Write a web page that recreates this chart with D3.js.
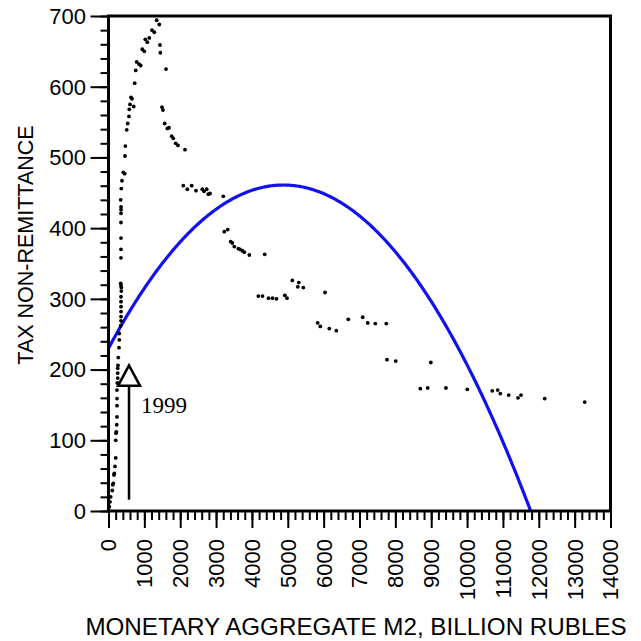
<!DOCTYPE html>
<html><head><meta charset="utf-8">
<script src="https://cdn.jsdelivr.net/npm/d3@7"></script>
<style>body{margin:0;background:#fff}</style>
</head><body><svg id="c" width="641" height="641"></svg>
<script>
// Monetary aggregate M2 (billion rubles)
const m2 = [0,22,42,61,106,117,134,153,162,181,201,201,209,218,229,237,237,237,237,245,257,257,257,265,273,293,301,301,340,349,349,349,349,349,349,357,357,349,340,349,349,349,349,349,349,349,340,357,376,413,452,460,469,508,535,572,580,600,703,627,655,731,759,786,851,898,943,998,1026,1082,1138,1213,1277,1344,1417,
1436,1445,1604,1492,1520,1567,1640,1687,1763,1807,1874,1938,2133,2086,2198,2320,2440,2616,2663,2739,2783,2831,3202,3229,3324,3408,3453,3508,3620,3667,3731,3787,3927,4356,4178,4295,4462,4574,4685,4917,4978,5126,5307,5279,5433,6038,5834,5907,6158,6353,6688,7089,7229,7441,7747,7767,8010,8989,8696,8902,9412,10006,10703,10854,10927,11161,11420,11504,12165,13280];
// Tax non-remittance
const arrears = [1,6,13,20,29,37,39,51,53,63,75,100,110,112,122,133,149,159,171,181,188,195,202,206,217,231,242,251,262,269,275,282,289,296,303,311,316,319,322,358,370,386,408,421,426,430,440,456,467,479,477,502,516,539,548,558,568,575,572,585,583,605,623,635,632,630,653,650,667,663,669,680,677,694,688,
659,648,625,571,567,548,541,542,530,527,520,517,511,460,455,460,453,455,452,455,448,449,445,395,398,381,379,374,371,370,368,366,362,363,304,304,301,301,300,305,301,326,323,317,316,309,266,261,258,255,271,274,266,265,265,214,212,210,173,174,174,172,170,171,166,164,160,164,159,154];
// Quadratic trend: c0 + c1*x + c2*x^2
const trendCoef = [230, 0.09467, -9.70e-6];
const xTickValues = d3.range(0, 14001, 1000);
const xMinorValues = d3.range(0, 14001, 200);
const yTickValues = d3.range(0, 701, 100);
const yMinorValues = d3.range(0, 701, 20);
const xTitle = "MONETARY AGGREGATE M2, BILLION RUBLES";
const yTitle = "TAX NON-REMITTANCE";
const noteLabel = "1999";
const noteX = 572, noteBase = 16, noteHead = 177, noteTip = 206, noteTextY = 139;

const svg = d3.select("#c");
const x = d3.scaleLinear().domain([0, 14000]).range([108.5, 610.5]);
const y = d3.scaleLinear().domain([0, 700]).range([511, 16]);
const font = "'Liberation Sans', Arial, sans-serif";

// trend curve
const [c0, c1, c2] = trendCoef;
const root = (-c1 - Math.sqrt(c1*c1 - 4*c2*c0)) / (2*c2);
const xs = d3.range(0, 301).map(i => root * i / 300);
svg.append("path")
  .datum(xs)
  .attr("fill", "none").attr("stroke", "#1010f0").attr("stroke-width", 3.2)
  .attr("d", d3.line().x(d => x(d)).y(d => y(Math.max(0, c0 + c1*d + c2*d*d))));

// points
svg.append("g").selectAll("circle").data(m2).join("circle")
  .attr("cx", (d) => x(d)).attr("cy", (d, i) => y(arrears[i]))
  .attr("r", 1.9).attr("fill", "#000");

// axes
const gx = svg.append("g").attr("transform", `translate(0,${y(0)})`);
gx.call(d3.axisBottom(x).tickValues(xMinorValues).tickSize(9).tickFormat(""));
gx.append("g").call(d3.axisBottom(x).tickValues(xTickValues).tickSize(17).tickFormat(""));
gx.selectAll(".domain").remove();
gx.selectAll("line").attr("stroke", "#000").attr("stroke-width", 2);
const gy = svg.append("g").attr("transform", `translate(${x(0)},0)`);
gy.call(d3.axisLeft(y).tickValues(yMinorValues).tickSize(8).tickFormat(""));
gy.append("g").call(d3.axisLeft(y).tickValues(yTickValues).tickSize(18).tickFormat(""));
gy.selectAll(".domain").remove();
gy.selectAll("line").attr("stroke", "#000").attr("stroke-width", 2);

// frame
svg.append("rect").attr("x", x(0)).attr("y", y(700)).attr("width", x(14000)-x(0)).attr("height", y(0)-y(700))
  .attr("fill", "none").attr("stroke", "#000").attr("stroke-width", 3);

// tick labels
svg.append("g").selectAll("text").data(yTickValues).join("text")
  .attr("x", 86).attr("y", d => y(d)).attr("dy", "0.36em")
  .attr("text-anchor", "end").attr("font-family", font).attr("font-size", 22)
  .text(d => d);
svg.append("g").selectAll("text").data(xTickValues).join("text")
  .attr("transform", d => `translate(${x(d)},539) rotate(-90)`)
  .attr("dy", "0.36em").attr("text-anchor", "end")
  .attr("font-family", font).attr("font-size", 22)
  .text(d => d);

// titles
svg.append("text").attr("x", 356).attr("y", 635).attr("text-anchor", "middle")
  .attr("font-family", font).attr("font-size", 24.2).text(xTitle);
svg.append("text").attr("transform", "translate(33,245) rotate(-90)").attr("text-anchor", "middle")
  .attr("font-family", font).attr("font-size", 21.5).text(yTitle);

// annotation arrow
const ax = x(noteX);
svg.append("line").attr("x1", ax).attr("x2", ax).attr("y1", y(noteBase)).attr("y2", y(noteHead))
  .attr("stroke", "#000").attr("stroke-width", 2.5);
svg.append("path")
  .attr("d", `M${ax},${y(noteTip)} L${ax-11},${y(noteHead)} L${ax+11},${y(noteHead)} Z`)
  .attr("fill", "#fff").attr("stroke", "#000").attr("stroke-width", 2.5).attr("stroke-linejoin", "miter");
svg.append("text").attr("x", ax + 12).attr("y", y(noteTextY))
  .attr("font-family", "'Liberation Serif', 'Times New Roman', serif").attr("font-size", 23)
  .text(noteLabel);
</script>
</body></html>
